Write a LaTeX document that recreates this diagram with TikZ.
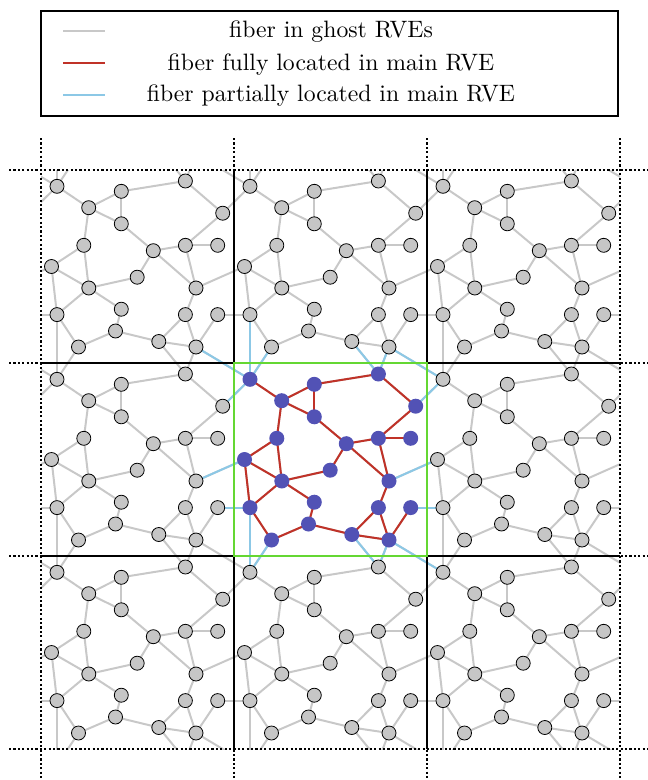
\documentclass[tikz,border=0pt]{standalone}
\usepackage{tikz}
\usepackage{fontspec}
\newfontfamily\lmten[Extension=.otf]{lmroman10-regular}
\definecolor{ghost}{RGB}{200,200,200}
\definecolor{ghostfill}{RGB}{198,198,198}
\definecolor{fred}{RGB}{192,50,40}
\definecolor{fblue}{RGB}{140,200,230}
\definecolor{nblue}{RGB}{82,82,181}
\definecolor{rvegreen}{RGB}{100,215,50}
\tikzset{
  ghostedge/.style={draw=ghost,line width=2pt},
  redge/.style={draw=fred,line width=2pt},
  bedge/.style={draw=fblue,line width=2pt},
  ghostnode/.style={circle,draw=black,line width=0.8pt,fill=ghostfill,minimum size=14pt,inner sep=0pt},
  mainnode/.style={circle,fill=nblue,minimum size=15pt,inner sep=0pt},
  gridsolid/.style={draw=black,line width=2.5pt},
  griddot/.style={draw=black,line width=2.2pt,dash pattern=on 2.2pt off 2.2pt},
  legtext/.style={anchor=base,inner sep=0pt,font=\lmten\fontsize{23.7}{28}\selectfont}
}
\begin{document}
\begin{tikzpicture}[x=1pt,y=-1pt]
\useasboundingbox (0,0) rectangle (648,780);
% node positions of one RVE, repeated periodically
\foreach \i in {0,...,4}{
 \foreach \j in {0,...,4}{
  \foreach \n/\x/\y in {A/250/379.3, B/281.7/400.7, C/314.3/384.3, D/314.3/416.8,
     E/378.4/374, F/415.7/406.2, G/276.8/438.3, H/346.3/443.7, I/378.4/438.3,
     J/410.7/438.3, K/244.5/459.5, L/330.2/470.2, M/281.8/481, N/389/481,
     O/314.3/502.2, P/378.4/507.6, Q/410.7/507.6, R/250/507.6, S/308.5/524,
     T/351.8/534.5, U/271.5/540, V/389/540}{
    \coordinate (\n-\i-\j) at ({\x+(\i-2)*193},{\y+(\j-2)*193});
  }}}
\begin{scope}
\clip (41,170) rectangle (620,749);
% ghost fibers
\foreach \i in {1,...,3}{
 \foreach \j in {1,...,3}{
  \foreach \a/\b in {A/B, B/C, C/D, B/D, C/E, E/F, F/I, D/H, H/I, I/J, H/N, I/N,
     H/L, B/G, G/K, G/M, K/M, L/M, K/R, M/R, M/O, O/S, R/U, U/S, S/T, T/P,
     N/P, P/V, T/V, V/Q}{
    \draw[ghostedge] (\a-\i-\j) -- (\b-\i-\j);
  }}}
\foreach \i in {1,...,4}{
 \foreach \j in {1,...,4}{
  \foreach \a/\b/\di/\dj in {A/V/-1/-1, A/U/0/-1, A/R/0/-1, A/F/-1/0,
     K/N/-1/0, R/Q/-1/0, E/T/0/-1, E/V/0/-1}{
    \pgfmathtruncatemacro{\ii}{\i+\di}
    \pgfmathtruncatemacro{\jj}{\j+\dj}
    \draw[ghostedge] (\a-\i-\j) -- (\b-\ii-\jj);
  }}}
% fibers partially in main RVE
\foreach \a/\b in {A-2-2/V-1-1, A-2-2/U-2-1, A-2-2/R-2-1, A-2-2/F-1-2,
   K-2-2/N-1-2, R-2-2/Q-1-2, E-2-2/T-2-1, E-2-2/V-2-1,
   A-3-3/V-2-2, A-2-3/U-2-2, A-2-3/R-2-2, A-3-2/F-2-2,
   K-3-2/N-2-2, R-3-2/Q-2-2, E-2-3/T-2-2, E-2-3/V-2-2, A-3-2/V-2-1}{
  \draw[bedge] (\a) -- (\b);
}
% fibers fully in main RVE
\foreach \a/\b in {A/B, B/C, C/D, B/D, C/E, E/F, F/I, D/H, H/I, I/J, H/N, I/N,
   H/L, B/G, G/K, G/M, K/M, L/M, K/R, M/R, M/O, O/S, R/U, U/S, S/T, T/P,
   N/P, P/V, T/V, V/Q}{
  \draw[redge] (\a-2-2) -- (\b-2-2);
}
% nodes
\foreach \i in {1,...,3}{
 \foreach \j in {1,...,3}{
  \foreach \n in {A,B,C,D,E,F,G,H,I,J,K,L,M,N,O,P,Q,R,S,T,U,V}{
    \ifnum\i=2 \ifnum\j=2
      \node[mainnode] (m-\n-\i-\j) at (\n-\i-\j) {};
    \else
      \node[ghostnode] (g-\n-\i-\j) at (\n-\i-\j) {};
    \fi\else
      \node[ghostnode] (g-\n-\i-\j) at (\n-\i-\j) {};
    \fi
  }}}
\end{scope}
% grid
\foreach \p in {234,427}{
  \draw[gridsolid] (\p,170) -- (\p,749);
  \draw[gridsolid] (41,\p+129) -- (620,\p+129);
}
\foreach \p in {41,234,427,620}{
  \draw[griddot] (\p,138) -- (\p,781);
}
\foreach \p in {170,363,556,749}{
  \draw[griddot] (9,\p) -- (652,\p);
}
\draw[draw=rvegreen,line width=2pt] (234,363) rectangle (427,556);
% legend
\draw[draw=black,line width=2pt,fill=white] (41,11) rectangle (618,116);
\coordinate (l1a) at (63,31); \coordinate (l1b) at (105,31);
\coordinate (l2a) at (63,63.3); \coordinate (l2b) at (105,63.3);
\coordinate (l3a) at (63,95); \coordinate (l3b) at (105,95);
\draw[ghostedge,line width=2.2pt] (l1a) -- (l1b);
\draw[redge,line width=2.2pt] (l2a) -- (l2b);
\draw[bedge,line width=2.2pt] (l3a) -- (l3b);
\node[legtext] (t1) at (331,37.7) {fiber in ghost RVEs};
\node[legtext] (t2) at (331,70) {fiber fully located in main RVE};
\node[legtext] (t3) at (331,101.7) {fiber partially located in main RVE};
\end{tikzpicture}
\end{document}
